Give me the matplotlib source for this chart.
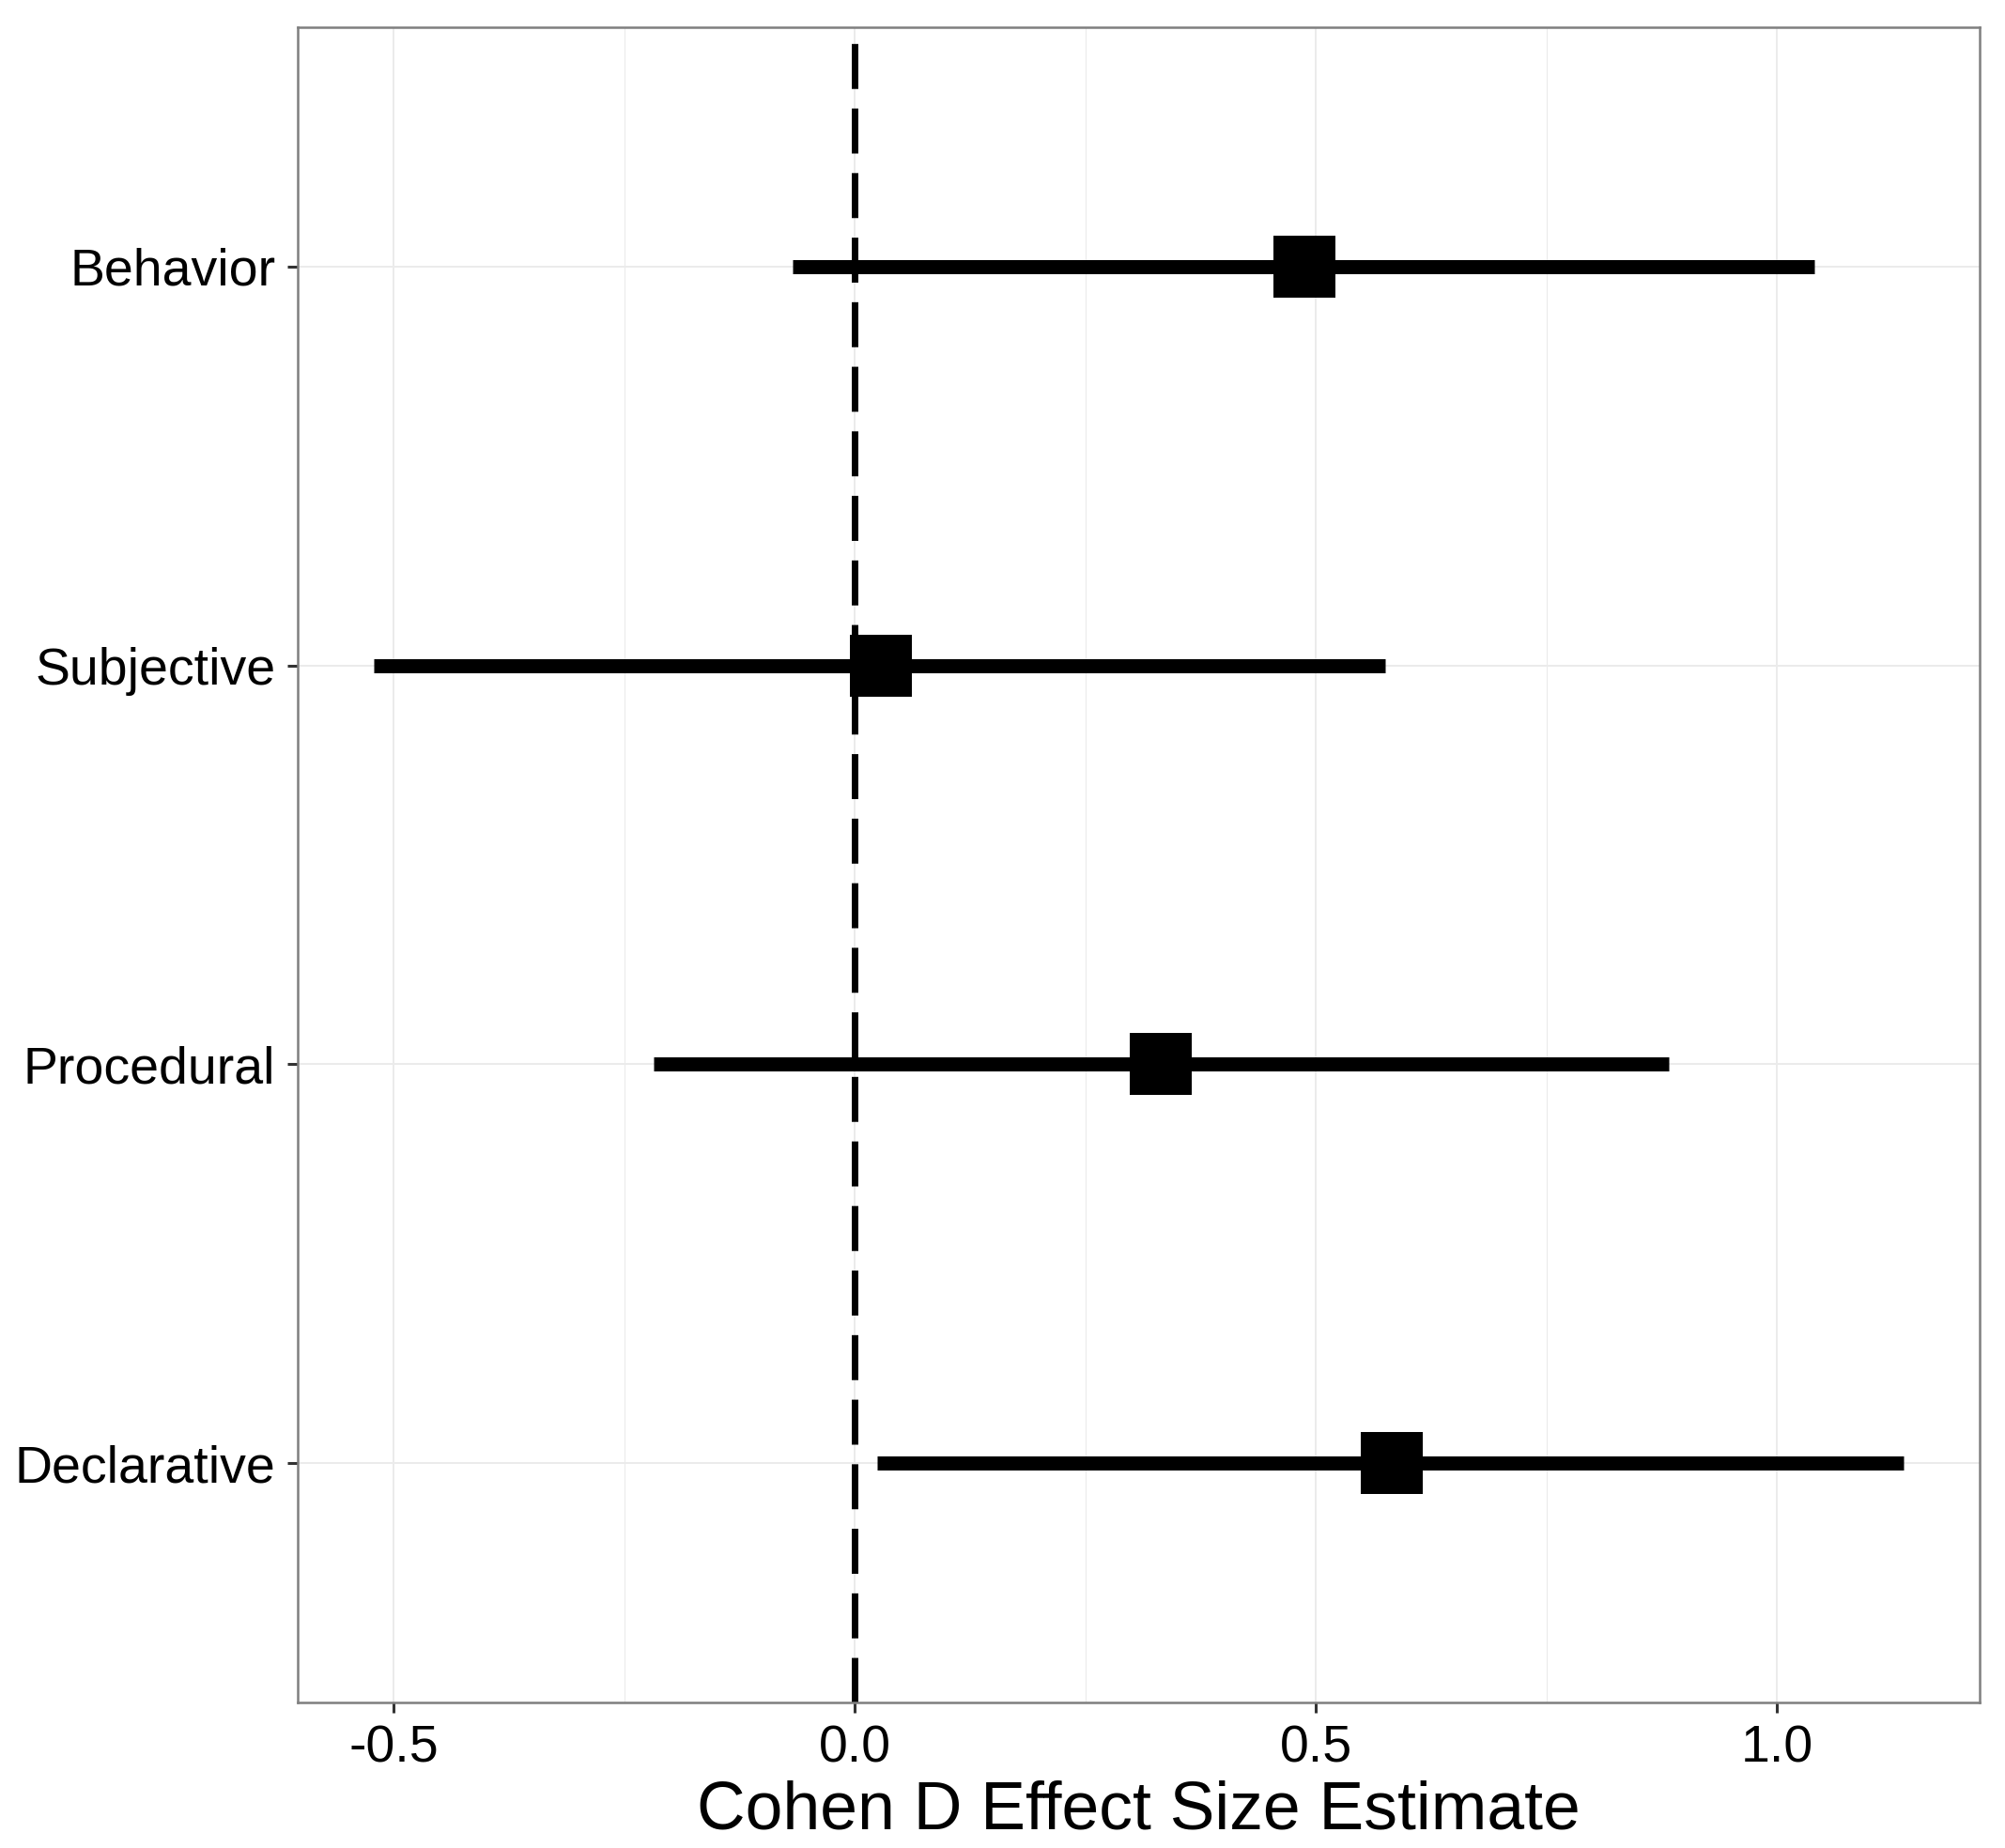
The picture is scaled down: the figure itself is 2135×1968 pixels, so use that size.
import matplotlib
matplotlib.use("Agg")
import matplotlib.pyplot as plt
from matplotlib.ticker import MultipleLocator

plt.rcParams['font.family'] = ['Liberation Sans', 'DejaVu Sans']

# effect sizes (Cohen's d) with interval bounds, top to bottom
measures = ['Behavior', 'Subjective', 'Procedural', 'Declarative']
estimates = [0.488, 0.028, 0.332, 0.582]
lower = [-0.067, -0.521, -0.218, 0.024]
upper = [1.041, 0.575, 0.883, 1.137]

GRID = '#ebebeb'
FRAME = '#7f7f7f'

fig = plt.figure(figsize=(21.35, 19.68), dpi=100)
ax = fig.add_axes([0.1485, 0.0788, 0.9874 - 0.1485, 0.9853 - 0.0788])

ypos = list(range(len(measures), 0, -1))

ax.grid(True, which='major', color=GRID, linewidth=1.4, zorder=0)
ax.grid(True, which='minor', axis='x', color=GRID, linewidth=0.8, zorder=0)
ax.set_axisbelow(True)

ax.axvline(0, color='black', linewidth=5, linestyle=(0, (6.9, 3.0)), zorder=2)
ax.hlines(ypos, lower, upper, color='black', linewidth=10.8, capstyle='butt', zorder=3)
ax.plot(estimates, ypos, linestyle='none', marker='s', markersize=47.5,
        markeredgewidth=0, color='black', zorder=4)

span = max(upper) - min(lower)
ax.set_xlim(min(lower) - 0.05 * span, max(upper) + 0.05 * span)
ax.set_ylim(0.4, len(measures) + 0.6)

ax.xaxis.set_major_locator(MultipleLocator(0.5))
ax.xaxis.set_minor_locator(MultipleLocator(0.25))
ax.xaxis.set_major_formatter(matplotlib.ticker.FormatStrFormatter('%.1f'))
ax.set_yticks(ypos)
ax.set_yticklabels(measures)

ax.tick_params(axis='both', which='major', length=8, width=2.2, color='#333333',
               labelsize=40, labelcolor='black', pad=9)
ax.tick_params(axis='x', which='minor', length=0)

for side in ax.spines.values():
    side.set_color(FRAME)
    side.set_linewidth(1.8)

ax.set_xlabel('Cohen D Effect Size Estimate', fontsize=51.5, labelpad=5)

fig.savefig('out.png', dpi=100, facecolor='white')
